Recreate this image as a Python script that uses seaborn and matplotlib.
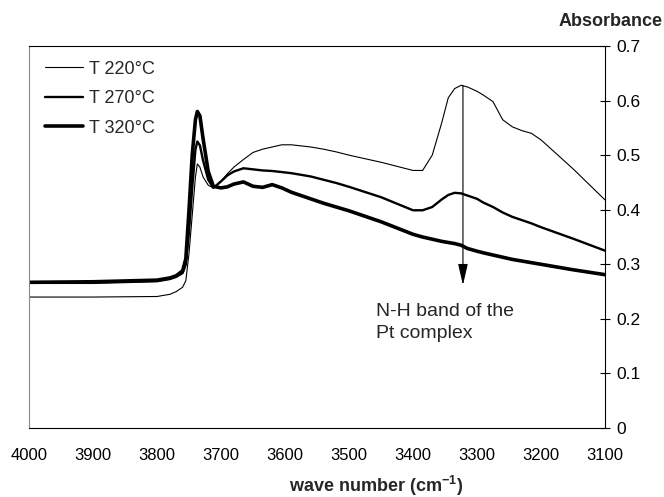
import pandas as pd
import matplotlib
matplotlib.use("Agg")
import matplotlib.pyplot as plt
import seaborn as sns

# wave numbers (cm-1) and absorbance
wave_number = [4000, 3900, 3800, 3780, 3770, 3760, 3755, 3750, 3745, 3740, 3737, 3733,
               3728, 3720, 3712, 3700, 3690, 3680, 3665, 3650, 3635, 3620, 3605, 3590,
               3575, 3560, 3540, 3520, 3500, 3450, 3400, 3385, 3370, 3355, 3345, 3335,
               3325, 3315, 3300, 3290, 3275, 3260, 3245, 3230, 3215, 3200, 3150, 3100]

t220 = [0.240, 0.240, 0.241, 0.245, 0.250, 0.258, 0.270, 0.320, 0.390, 0.460, 0.484, 0.478,
        0.460, 0.445, 0.440, 0.452, 0.466, 0.478, 0.492, 0.505, 0.511, 0.515, 0.519, 0.519,
        0.517, 0.515, 0.511, 0.506, 0.500, 0.487, 0.472, 0.472, 0.500, 0.560, 0.605, 0.622,
        0.628, 0.625, 0.617, 0.610, 0.598, 0.565, 0.552, 0.545, 0.540, 0.528, 0.475, 0.418]

t270 = [0.266, 0.266, 0.269, 0.273, 0.277, 0.284, 0.300, 0.360, 0.440, 0.510, 0.525, 0.518,
        0.490, 0.455, 0.440, 0.452, 0.463, 0.470, 0.476, 0.474, 0.472, 0.471, 0.469, 0.467,
        0.464, 0.461, 0.455, 0.449, 0.442, 0.423, 0.399, 0.399, 0.405, 0.419, 0.427, 0.431,
        0.430, 0.426, 0.420, 0.413, 0.405, 0.395, 0.387, 0.381, 0.375, 0.368, 0.347, 0.325]

t320 = [0.267, 0.268, 0.271, 0.275, 0.279, 0.288, 0.310, 0.400, 0.500, 0.565, 0.580, 0.572,
        0.530, 0.470, 0.443, 0.440, 0.442, 0.447, 0.451, 0.443, 0.441, 0.446, 0.440, 0.432,
        0.426, 0.420, 0.412, 0.405, 0.398, 0.378, 0.355, 0.350, 0.346, 0.342, 0.340, 0.338,
        0.335, 0.329, 0.324, 0.321, 0.317, 0.313, 0.309, 0.306, 0.303, 0.300, 0.290, 0.281]

labels = ["T 220°C", "T 270°C", "T 320°C"]
widths = [0.8, 1.7, 2.6]

sns.set_theme(style="white")
plt.rcParams["font.family"] = ["Liberation Sans", "DejaVu Sans"]

df = pd.DataFrame({"wn": wave_number * 3,
                   "abs": t220 + t270 + t320,
                   "series": [l for l in labels for _ in wave_number]})

fig = plt.figure(figsize=(6.64, 4.97), dpi=100)
ax = fig.add_axes([0.0437, 0.1388, 0.8675, 0.7686])

for lab, lw in zip(labels, widths):
    sub = df[df["series"] == lab]
    sns.lineplot(data=sub, x="wn", y="abs", ax=ax, color="black", linewidth=lw,
                 label=lab, sort=False, estimator=None)

ax.set_xlim(4000, 3100)
ax.set_ylim(0, 0.7)
ax.set_xticks(range(4000, 3099, -100))
ax.set_yticks([0, 0.1, 0.2, 0.3, 0.4, 0.5, 0.6, 0.7])
ax.set_yticklabels(["0", "0.1", "0.2", "0.3", "0.4", "0.5", "0.6", "0.7"])
ax.yaxis.tick_right()
ax.tick_params(axis="both", direction="inout", length=7, width=0.8, colors="black")
ax.tick_params(axis="x", pad=11, labelsize=12)
ax.tick_params(axis="y", pad=5, labelsize=12.5)

for side in ["top", "right", "bottom"]:
    ax.spines[side].set_color("black")
    ax.spines[side].set_linewidth(0.8)
ax.spines["left"].set_color("#8a8a8a")
ax.spines["left"].set_linewidth(0.8)

ax.set_xlabel("")
ax.set_ylabel("")
ax.text(0.602, -0.152, "wave number (cm$^{\\mathregular{-1}}$)", transform=ax.transAxes,
        ha="center", va="center", fontsize=13, fontweight="bold")
ax.text(1.009, 1.063, "Absorbance", transform=ax.transAxes, ha="center", va="center",
        fontsize=13, fontweight="bold")

ax.annotate("", xy=(3322, 0.262), xytext=(3322, 0.628),
            arrowprops=dict(arrowstyle="-|>,head_length=0.65,head_width=0.15",
                            color="black", lw=0.8, mutation_scale=20,
                            shrinkA=0, shrinkB=0))
ax.text(3458, 0.230, "N-H band of the\nPt complex", ha="left", va="top",
        fontsize=14, linespacing=1.4)

leg = ax.legend(loc="upper left", bbox_to_anchor=(0.028, 0.962), frameon=False,
                borderpad=0, borderaxespad=0, handlelength=2.1, handletextpad=0.35,
                labelspacing=0.7, fontsize=13)

fig.savefig("out.png", dpi=100)
